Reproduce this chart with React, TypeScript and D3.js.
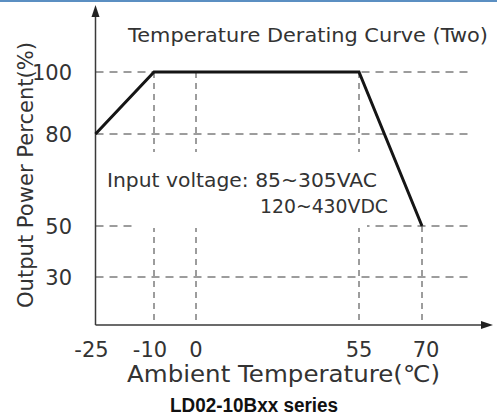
import React from "react";
import * as d3 from "d3";

// derating curve (ambient temperature °C -> output power %)
const curveTemp = [-25, -10, 55, 70];
const curvePower = [80, 100, 100, 50];

const xTicks = [-25, -10, 0, 55, 70];
const yTicks = [30, 50, 80, 100];

// guide lines
const hGuides = [100, 80, 50, 30];
const vGuides = [
  { t: -10, top: 100 },
  { t: 0, top: 100 },
  { t: 55, top: 100 },
  { t: 70, top: 50 },
];

const width = 497;
const height = 420;
const font = "'DejaVu Sans', 'Liberation Sans', sans-serif";

// the original drawing is not to scale, so the scales are piecewise
const x = d3.scaleLinear().domain([-25, -10, 0, 55, 70]).range([95.5, 154, 196, 359, 422]);
const y = d3.scaleLinear().domain([0, 30, 50, 80, 100]).range([325, 277, 226, 134, 72]);

const line = d3
  .line<number>()
  .x((_, i) => x(curveTemp[i]))
  .y((d) => y(d));

export default function App() {
  const x0 = x(-25);
  const y0 = y(0);
  const gridEnd = 471;
  const grey = "#3a3a3a";

  return (
    <div style={{ position: "fixed", left: 0, top: 0 }}>
      <svg width={width} height={height} style={{ display: "block", background: "#fff" }}>
        <rect x={0} y={0} width={width} height={2} fill="#5b8fc2" />

        {/* dashed guides */}
        <g stroke={grey} strokeWidth={1} strokeDasharray="8,6" fill="none">
          {hGuides.map((v) => (
            <line key={"h" + v} x1={x0} x2={gridEnd} y1={y(v)} y2={y(v)} />
          ))}
          {vGuides.map((g) => (
            <line key={"v" + g.t} x1={x(g.t)} x2={x(g.t)} y1={y(g.top)} y2={y0} strokeDasharray="6,5" />
          ))}
        </g>

        {/* white box behind the input text */}
        <rect x={133} y={152} width={234} height={76} fill="#fff" />

        {/* axes */}
        <g stroke={grey} strokeWidth={1.5}>
          <line x1={x0} x2={x0} y1={y0} y2={12} />
          <line x1={x0} x2={484} y1={y0} y2={y0} />
        </g>
        <path d={`M${x0},5 L${x0 - 4},17 L${x0 + 4},17 Z`} fill="#222" />
        <path d={`M493,${y0} L481,${y0 - 4} L481,${y0 + 4} Z`} fill="#222" />

        {/* curve */}
        <path d={line(curvePower) ?? ""} fill="none" stroke="#151515" strokeWidth={3} strokeLinejoin="miter" />

        <g fontFamily={font} fill="#333">
          <text x={128} y={42} fontSize={20} textLength={360} lengthAdjust="spacingAndGlyphs">
            Temperature Derating Curve (Two)
          </text>

          {yTicks.map((v) => (
            <text key={"yt" + v} x={72} y={y(v)} dy="0.36em" fontSize={21} textAnchor="end">
              {v}
            </text>
          ))}

          {xTicks.map((v) => (
            <text key={"xt" + v} x={x(v) - (v < 0 ? 4 : v === 70 ? -4 : 0)} y={357} fontSize={21} textAnchor="middle">
              {v}
            </text>
          ))}

          <text
            transform="translate(33,175) rotate(-90)"
            fontSize={21}
            textAnchor="middle"
            textLength={266}
            lengthAdjust="spacingAndGlyphs"
          >
            Output Power Percent(%)
          </text>

          <text x={127} y={382} fontSize={23} textLength={313} lengthAdjust="spacingAndGlyphs">
            Ambient Temperature(℃)
          </text>

          <text x={107} y={187} fontSize={20} textLength={270} lengthAdjust="spacingAndGlyphs">
            Input voltage: 85~305VAC
          </text>
          <text x={260} y={213} fontSize={20} textLength={128} lengthAdjust="spacingAndGlyphs">
            120~430VDC
          </text>
        </g>

        <text
          x={170}
          y={412}
          fontFamily="'Liberation Sans Narrow', 'Liberation Sans', sans-serif"
          fontSize={20}
          fontWeight="bold"
          fill="#111"
          textLength={168}
          lengthAdjust="spacingAndGlyphs"
        >
          LD02-10Bxx series
        </text>
      </svg>
    </div>
  );
}
